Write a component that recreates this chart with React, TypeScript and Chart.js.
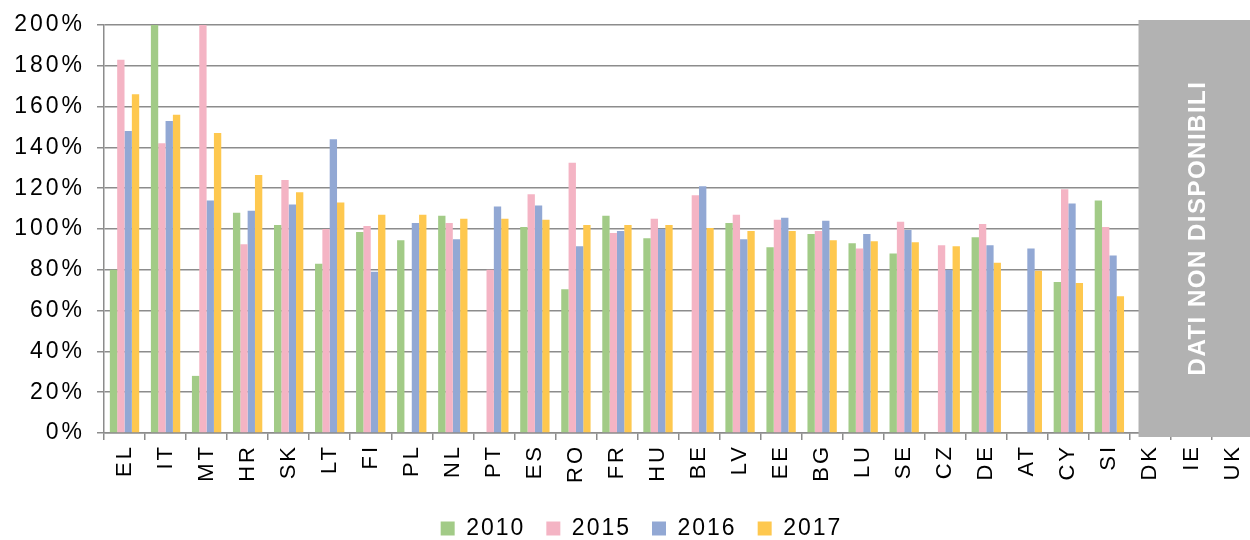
import React, { useEffect, useRef } from "react";
import { Chart, registerables } from "chart.js";

Chart.register(...registerables);

const categories = ["EL","IT","MT","HR","SK","LT","FI","PL","NL","PT","ES","RO","FR","HU","BE","LV","EE","BG","LU","SE","CZ","DE","AT","CY","SI","DK","IE","UK"];
const seriesLabels = ["2010", "2015", "2016", "2017"];
const values2010 = [80, 200, 28, 108, 102, 83, 98.5, 94.5, 106.5, null, 101, 70.5, 106.5, 95.5, null, 103, 91, 97.5, 93, 88, null, 96, null, 74, 114, null, null, null];
const values2015 = [183, 142, 200, 92.5, 124, 100, 101.5, null, 103, 80, 117, 132.5, 98, 105, 116.5, 107, 104.5, 99, 90.5, 103.5, 92, 102.5, null, 119.5, 101, null, null, null];
const values2016 = [148, 153, 114, 109, 112, 144, 79, 103, 95, 111, 111.5, 91.5, 99, 100, 121, 95, 105.5, 104, 97.5, 99.5, 80, 92, 90.5, 112.5, 87, null, null, null];
const values2017 = [166, 156, 147, 126.5, 118, 113, 107, 107, 105, 105, 104.5, 102, 102, 102, 100.5, 99, 99, 94.5, 94, 93.5, 91.5, 83.5, 79.5, 73.5, 67, null, null, null];
const yTicks = [0, 20, 40, 60, 80, 100, 120, 140, 160, 180, 200];
const noDataText = "DATI NON DISPONIBILI";
const noDataFrom = "DK";

const colors = ["#a2cb87", "#f4b4c4", "#92a8d4", "#fec84f"];
const GRID = "#8c8c8c";
const FAMILY = "'Liberation Sans', Arial, sans-serif";

const spacingPlugin = {
  id: "spacing",
  beforeUpdate(chart: any) { chart.ctx.letterSpacing = "2px"; },
  beforeLayout(chart: any) { chart.ctx.letterSpacing = "2px"; },
  beforeDraw(chart: any) { chart.ctx.letterSpacing = "2px"; },
  afterDatasetsDraw(chart: any) { chart.ctx.letterSpacing = "3px"; },
};

const yLabelsPlugin = {
  id: "yLabels",
  afterDraw(chart: any) {
    const ctx = chart.ctx;
    const ys = chart.scales.y;
    const x = chart.chartArea.left - 19;
    ctx.save();
    ctx.letterSpacing = "3px";
    ctx.font = "23px " + FAMILY;
    ctx.fillStyle = "#000";
    ctx.textAlign = "right";
    ctx.textBaseline = "middle";
    yTicks.forEach((v) => {
      ctx.fillText(v + "%", x, ys.getPixelForValue(v));
    });
    ctx.restore();
  },
};

const noDataPlugin = {
  id: "noData",
  afterDatasetsDraw(chart: any) {
    const ctx = chart.ctx;
    const xs = chart.scales.x;
    const area = chart.chartArea;
    const idx = categories.indexOf(noDataFrom);
    const step = xs.getPixelForValue(1) - xs.getPixelForValue(0);
    const left = xs.getPixelForValue(idx) - step * 0.29;
    const right = chart.width;
    const top = area.top - 5;
    const bottom = area.bottom + 4;
    ctx.save();
    ctx.fillStyle = "#b2b2b2";
    ctx.fillRect(left, top, right - left, bottom - top);
    ctx.translate((left + right) / 2 + 3, (area.top + area.bottom) / 2 - 1);
    ctx.rotate(-Math.PI / 2);
    ctx.letterSpacing = "1.5px";
    ctx.fillStyle = "#ffffff";
    ctx.font = "bold 24px " + FAMILY;
    ctx.textAlign = "center";
    ctx.textBaseline = "middle";
    ctx.fillText(noDataText, 0, 0);
    ctx.restore();
  },
};

export default function App() {
  const ref = useRef<HTMLCanvasElement>(null);
  useEffect(() => {
    if (!ref.current) return;
    const all = [values2010, values2015, values2016, values2017];
    const chart = new Chart(ref.current, {
      type: "bar",
      data: {
        labels: categories,
        datasets: all.map((d, i) => ({
          label: seriesLabels[i],
          data: d,
          backgroundColor: colors[i],
          borderWidth: 0,
          barPercentage: 1,
          categoryPercentage: 0.715,
        })),
      },
      options: {
        responsive: false,
        animation: false,
        layout: { padding: { top: 25, left: 30, right: 0, bottom: -10 } },
        plugins: {
          tooltip: { enabled: false },
          legend: {
            position: "bottom",
            labels: {
              boxWidth: 14,
              boxHeight: 14,
              padding: 21,
              color: "#000",
              font: { size: 23, family: FAMILY },
            },
          },
        },
        scales: {
          x: {
            offset: true,
            afterFit: (s: any) => { s.paddingLeft = 0; s.paddingRight = 0; s.height += 11; },
            grid: { display: true, drawOnChartArea: false, drawTicks: true, tickLength: 7, color: GRID, lineWidth: 1.5, offset: true, z: 0 },
            border: { color: GRID, width: 1.5, z: 0 },
            ticks: { z: 1, minRotation: 90, maxRotation: 90, autoSkip: false, color: "#000", padding: 4, font: { size: 22, family: FAMILY } },
          },
          y: {
            min: 0,
            max: 200,
            afterBuildTicks: (s: any) => { s.ticks = yTicks.map((v) => ({ value: v })); },
            afterFit: (s: any) => { s.width = 74; s.paddingTop = 0; s.paddingBottom = 0; },
            ticks: { display: false },
            grid: { color: GRID, lineWidth: 1.5, tickLength: 7, drawTicks: true },
            border: { color: GRID, width: 1.5 },
          },
        },
      },
      plugins: [spacingPlugin, noDataPlugin, yLabelsPlugin],
    } as any);
    return () => chart.destroy();
  }, []);
  return (
    <div style={{ position: "absolute", left: 0, top: 0, width: 1250, height: 540, overflow: "hidden", background: "#fff" }}>
      <canvas ref={ref} width={1253} height={540} style={{ display: "block" }} />
    </div>
  );
}
